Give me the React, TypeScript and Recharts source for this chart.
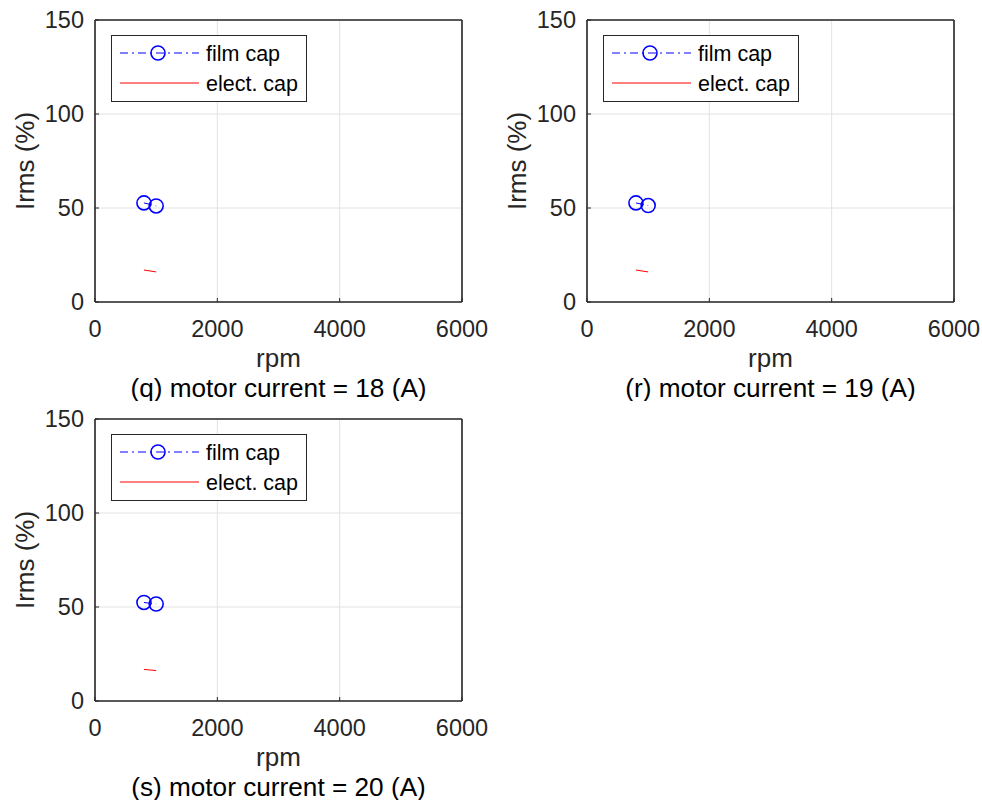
import React from "react";
import {
  CartesianGrid,
  Customized,
  Legend,
  Line,
  LineChart,
  ReferenceLine,
  XAxis,
  YAxis,
} from "recharts";

const rpm = [800, 1000];
const xTicks = [0, 2000, 4000, 6000];
const yTicks = [0, 50, 100, 150];

const filmQ = [52.7, 51.1];
const electQ = [17.0, 16.0];
const filmR = [52.7, 51.3];
const electR = [17.0, 16.0];
const filmS = [52.4, 51.6];
const electS = [16.8, 16.2];

const seriesOrder = ["film", "elect"];

const FONT = "'Liberation Sans', Arial, sans-serif";
const INK = "#262626";
const BLUE = "#0000ff";
const RED = "#ff0000";
const W = 490;
const H = 401;
const LEFT = 95;
const TOP = 20;
const RIGHT = 462;
const BOTTOM = 302;
const XAXIS_H = 40;
const DASHDOT = "8 4 2 4";

const YTick = (p: any) => (
  <g>
    <line x1={LEFT} x2={LEFT + 4} y1={p.y} y2={p.y} stroke={INK} strokeWidth={1} />
    <text x={p.x} y={p.y} dy="0.35em" textAnchor="end" fontSize={23.5} fill={INK} fontFamily={FONT}>
      {p.payload.value}
    </text>
  </g>
);

const XTick = (p: any) => (
  <g>
    <line x1={p.x} x2={p.x} y1={BOTTOM} y2={BOTTOM - 4} stroke={INK} strokeWidth={1} />
    <text x={p.x} y={p.y} dy="0.71em" textAnchor="middle" fontSize={23.5} fill={INK} fontFamily={FONT}>
      {p.payload.value}
    </text>
  </g>
);

const Marker = (p: any) =>
  p.cx == null ? null : (
    <circle key={p.index} cx={p.cx} cy={p.cy} r={7} fill="none" stroke={BLUE} strokeWidth={1.6} />
  );

const LegendBox = (props: any) => {
  const items = [...(props.payload || [])].sort(
    (a: any, b: any) => seriesOrder.indexOf(a.dataKey) - seriesOrder.indexOf(b.dataKey)
  );
  return (
    <div style={{ width: 196, height: 67, border: `1px solid ${INK}`, background: "#fff", boxSizing: "border-box" }}>
      <svg width={194} height={65} style={{ display: "block" }}>
        {items.map((it: any, i: number) => {
          const y = 17 + i * 30;
          const film = it.dataKey === "film";
          return (
            <g key={it.value}>
              <line x1={8} x2={87} y1={y} y2={y} stroke={it.color} strokeWidth={1} strokeDasharray={film ? DASHDOT : undefined} />
              {film && <circle cx={46} cy={y} r={7} fill="none" stroke={it.color} strokeWidth={1.6} />}
              <text x={94} y={y} dy="0.35em" fontSize={21.5} fill="#000" fontFamily={FONT}>
                {it.value}
              </text>
            </g>
          );
        })}
      </svg>
    </div>
  );
};

function Panel({ film, elect, title }: { film: number[]; elect: number[]; title: string }) {
  const data = rpm.map((r, i) => ({ rpm: r, film: film[i], elect: elect[i] }));
  const cx = (LEFT + RIGHT) / 2;
  const cy = (TOP + BOTTOM) / 2;
  return (
    <LineChart
      width={W}
      height={H}
      data={data}
      margin={{ top: TOP, right: W - RIGHT, bottom: H - BOTTOM - XAXIS_H, left: 0 }}
    >
      <CartesianGrid stroke="#e2e2e2" strokeWidth={1} />
      <XAxis
        dataKey="rpm"
        type="number"
        domain={[0, 6000]}
        ticks={xTicks}
        height={XAXIS_H}
        tickSize={0}
        tickMargin={18}
        tick={<XTick />}
        axisLine={{ stroke: INK, strokeWidth: 1.6 }}
        tickLine={false}
        interval={0}
      />
      <YAxis
        type="number"
        domain={[0, 150]}
        ticks={yTicks}
        width={LEFT}
        tickSize={0}
        tickMargin={11}
        tick={<YTick />}
        axisLine={{ stroke: INK, strokeWidth: 1.6 }}
        tickLine={false}
        interval={0}
      />
      <ReferenceLine y={150} stroke={INK} strokeWidth={1.6} />
      <ReferenceLine x={6000} stroke={INK} strokeWidth={1.6} />
      <Line
        name="film cap"
        dataKey="film"
        stroke={BLUE}
        strokeWidth={1}
        strokeDasharray={DASHDOT}
        dot={<Marker />}
        activeDot={false}
        isAnimationActive={false}
      />
      <Line
        name="elect. cap"
        dataKey="elect"
        stroke={RED}
        strokeWidth={1}
        dot={false}
        activeDot={false}
        isAnimationActive={false}
      />
      <Legend
        layout="vertical"
        align="center"
        verticalAlign="middle"
        content={<LegendBox />}
        wrapperStyle={{ left: 111, top: 35, width: 196, height: 67 }}
      />
      <Customized
        component={() => (
          <g fontFamily={FONT} fill={INK}>
            <text x={25} y={cy} dy="0.35em" textAnchor="middle" fontSize={26} transform={`rotate(-90 25 ${cy})`}>
              Irms (%)
            </text>
            <text x={cx} y={367} textAnchor="middle" fontSize={26}>
              rpm
            </text>
            <text x={cx} y={396.5} textAnchor="middle" fontSize={26.2} fill="#000">
              {title}
            </text>
          </g>
        )}
      />
    </LineChart>
  );
}

export default function App() {
  return (
    <div style={{ position: "absolute", left: 0, top: 0, width: 982, height: 800, background: "#fff" }}>
      <div style={{ position: "absolute", left: 0, top: 0 }}>
        <Panel film={filmQ} elect={electQ} title="(q) motor current = 18 (A)" />
      </div>
      <div style={{ position: "absolute", left: 492, top: 0 }}>
        <Panel film={filmR} elect={electR} title="(r) motor current = 19 (A)" />
      </div>
      <div style={{ position: "absolute", left: 0, top: 399 }}>
        <Panel film={filmS} elect={electS} title="(s) motor current = 20 (A)" />
      </div>
    </div>
  );
}
